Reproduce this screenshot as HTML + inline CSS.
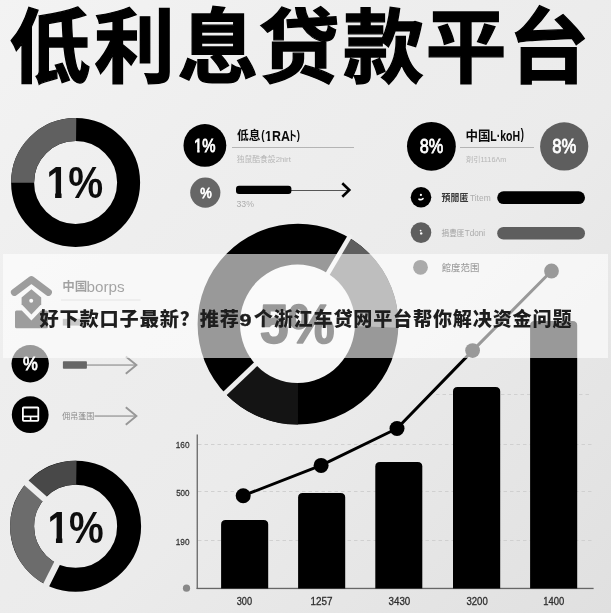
<!DOCTYPE html>
<html lang="zh-CN">
<head>
<meta charset="utf-8">
<title>低利息贷款平台</title>
<style>
  html,body{margin:0;padding:0;}
  body{width:611px;height:613px;overflow:hidden;background:#ebebeb;font-family:"Liberation Sans","Noto Sans CJK SC",sans-serif;}
  #stage{position:relative;width:611px;height:613px;overflow:hidden;background:linear-gradient(135deg,#f3f3f3 0%,#eeeeee 30%,#ebebeb 58%,#e0e0e0 100%);}
  svg{position:absolute;left:0;top:0;display:block;}
  .cjk{font-family:"Liberation Sans","Noto Sans CJK SC",sans-serif;}
  #band{position:absolute;left:3px;top:254px;width:605px;height:103.5px;background:rgba(255,255,255,0.6);}
</style>
</head>
<body>
<div id="stage">
<svg id="art" width="611" height="613" viewBox="0 0 611 613">
  <g id="title">
  <text class="cjk" x="9.6 94 177.4 258.5 343 425.5 508.2" y="76.4" font-size="81" font-weight="700" fill="#000" stroke="#000" stroke-width="1.3" stroke-linejoin="miter">低利息贷款平台</text>
  </g>
  <g id="donut1">
  <circle cx="75.6" cy="182.5" r="53" fill="none" stroke="#000" stroke-width="23"/>
  <path d="M22.60 182.69 A53 53 0 0 1 76.16 129.50" fill="none" stroke="#606060" stroke-width="23"/>
  <clipPath id="nf1" clipPathUnits="userSpaceOnUse"><rect x="-44.16" y="-88.32" width="264.96" height="82.62"/><rect x="9.71" y="-5.80" width="7.26" height="44.16"/><rect x="24.56" y="-5.80" width="220.80" height="44.16"/></clipPath><text transform="translate(46.47 198.26) scale(0.8888 1)" font-size="44.16" font-weight="700" fill="#0d0d0d" style="font-family:'Liberation Sans',sans-serif" clip-path="url(#nf1)">1%</text>
  </g>
  <g id="blockA">
  <circle cx="204.9" cy="145.4" r="21.4" fill="#000"/>
  <clipPath id="nf2" clipPathUnits="userSpaceOnUse"><rect x="-18.13" y="-36.26" width="108.77" height="33.90"/><rect x="3.96" y="-2.45" width="2.80" height="18.13"/><rect x="10.08" y="-2.45" width="90.64" height="18.13"/></clipPath><text transform="translate(193.98 151.82) scale(0.8228 1)" font-size="18.13" font-weight="400" fill="#fff" style="font-family:'Liberation Sans',sans-serif" stroke="#fff" stroke-width="0.9" clip-path="url(#nf2)">1%</text>
  <text transform="translate(237.08 139.92) scale(0.9403 1)" font-size="12.47" font-weight="700" fill="#0a0a0a" style="font-family:'Liberation Sans','Noto Sans CJK SC',sans-serif" >低息</text>
  <text transform="translate(261.36 138.76) scale(0.7343 1)" font-size="13.58" font-weight="700" fill="#0a0a0a" style="font-family:'Liberation Sans',sans-serif" >(</text>
  <clipPath id="nf3" clipPathUnits="userSpaceOnUse"><rect x="-14.34" y="-28.69" width="86.07" height="26.22"/><rect x="2.75" y="-2.56" width="3.17" height="14.34"/><rect x="7.98" y="-2.56" width="71.72" height="14.34"/></clipPath><text transform="translate(265.05 140.70) scale(0.8659 1)" font-size="14.34" font-weight="700" fill="#0a0a0a" style="font-family:'Liberation Sans',sans-serif" clip-path="url(#nf3)">1RA</text>
  <text transform="translate(288.11 140.49) scale(0.7008 1)" font-size="12.93" font-weight="700" fill="#0a0a0a" style="font-family:'Liberation Sans','Noto Sans CJK SC',sans-serif" >ト</text>
  <text transform="translate(296.67 138.76) scale(0.7109 1)" font-size="13.58" font-weight="700" fill="#0a0a0a" style="font-family:'Liberation Sans',sans-serif" >)</text>
  <rect x="232" y="147" width="122" height="1" fill="#b4b4b4"/>
  <text transform="translate(236.67 161.86) scale(1.0417 1)" font-size="7.50" font-weight="400" fill="#b6b6b6" style="font-family:'Liberation Sans','Noto Sans CJK SC',sans-serif" >独鼠酷食設2hirt</text>
  <circle cx="205.3" cy="192.6" r="15.1" fill="#666"/>
  <text transform="translate(200.14 197.92) scale(0.8459 1)" font-size="15.29" font-weight="400" fill="#fff" style="font-family:'Liberation Sans',sans-serif" stroke="#fff" stroke-width="0.8">%</text>
  <rect x="290" y="190" width="58" height="1" fill="#555"/>
  <rect x="236" y="185.7" width="55.4" height="8.4" rx="3" fill="#000"/>
  <path d="M342.3 183.2 L349.3 190 L342.3 196.8" fill="none" stroke="#000" stroke-width="2.6" stroke-linejoin="miter"/>
  <text transform="translate(236.50 206.95) scale(1.0415 1)" font-size="8.40" font-weight="400" fill="#adadad" style="font-family:'Liberation Sans',sans-serif" >33%</text>
  </g>
  <g id="blockB">
  <circle cx="431.4" cy="146.3" r="24.4" fill="#000"/>
  <text transform="translate(419.66 153.22) scale(0.8433 1)" font-size="19.31" font-weight="400" fill="#fff" style="font-family:'Liberation Sans',sans-serif" stroke="#fff" stroke-width="0.8">8%</text>
  <text transform="translate(465.39 139.67) scale(0.9560 1)" font-size="13.08" font-weight="700" fill="#0a0a0a" style="font-family:'Liberation Sans','Noto Sans CJK SC',sans-serif" >中国</text>
  <text transform="translate(490.27 140.64) scale(0.6783 1)" font-size="15.52" font-weight="700" fill="#0a0a0a" style="font-family:'Liberation Sans',sans-serif" >L·koH</text>
  <text transform="translate(520.68 138.88) scale(0.6864 1)" font-size="13.90" font-weight="700" fill="#0a0a0a" style="font-family:'Liberation Sans',sans-serif" >)</text>
  <rect x="460" y="147" width="74" height="1" fill="#b4b4b4"/>
  <text transform="translate(465.88 162.41) scale(0.9869 1)" font-size="7.35" font-weight="400" fill="#b6b6b6" style="font-family:'Liberation Sans','Noto Sans CJK SC',sans-serif" >剤引1116Λm</text>
  <circle cx="564.2" cy="146.4" r="24.1" fill="#5e5e5e"/>
  <text transform="translate(552.36 153.22) scale(0.8619 1)" font-size="19.31" font-weight="400" fill="#fff" style="font-family:'Liberation Sans',sans-serif" stroke="#fff" stroke-width="0.8">8%</text>
  <circle cx="421" cy="197.2" r="10.3" fill="#000"/>
  <circle cx="420.9" cy="194.9" r="1.1" fill="#fff"/>
  <path d="M419 199.2 Q421 200.4 423 198.6" fill="none" stroke="#fff" stroke-width="1.6" stroke-linecap="round"/>
  <text transform="translate(441.61 200.76) scale(0.9464 1)" font-size="9.44" font-weight="700" fill="#383838" style="font-family:'Liberation Sans','Noto Sans CJK SC',sans-serif" >預閒匿</text>
  <text transform="translate(469.91 201.27) scale(0.9198 1)" font-size="9.18" font-weight="400" fill="#adadad" style="font-family:'Liberation Sans',sans-serif" >Titem</text>
  <rect x="497.2" y="191.3" width="87.8" height="12.7" rx="6.35" fill="#000"/>
  <circle cx="421" cy="232.6" r="10.3" fill="#5e5e5e"/>
  <circle cx="420.6" cy="230.6" r="0.9" fill="#fff"/><circle cx="421.2" cy="233.4" r="1.2" fill="#fff"/>
  <text transform="translate(441.55 236.26) scale(0.8953 1)" font-size="8.48" font-weight="400" fill="#a2a2a2" style="font-family:'Liberation Sans','Noto Sans CJK SC',sans-serif" >捐豊匪</text>
  <text transform="translate(464.72 236.47) scale(0.8998 1)" font-size="9.01" font-weight="400" fill="#ababab" style="font-family:'Liberation Sans',sans-serif" >Tdoni</text>
  <rect x="497.2" y="227" width="87.8" height="12.5" rx="6.25" fill="#5e5e5e"/>
  <circle cx="420.5" cy="267.3" r="7.4" fill="#2b2b2b"/>
  <text transform="translate(441.71 271.37) scale(1.0109 1)" font-size="9.32" font-weight="500" fill="#050505" style="font-family:'Liberation Sans','Noto Sans CJK SC',sans-serif" >館度范围</text>
  </g>
  <g id="chart">
  <g stroke="#d0d0d0" stroke-width="1" stroke-dasharray="3.5 3">
  <line x1="436" y1="394.5" x2="592" y2="394.5"/>
  <line x1="198" y1="444.5" x2="592" y2="444.5"/>
  <line x1="198" y1="491.5" x2="592" y2="491.5"/>
  <line x1="198" y1="540.5" x2="592" y2="540.5"/>
  </g>
  <rect x="196.6" y="434.5" width="1.3" height="154.5" fill="#666"/>
  <rect x="196.6" y="587.8" width="397" height="1.3" fill="#666"/>
  <circle cx="186.5" cy="588.2" r="3.6" fill="#888"/>
  <path d="M221.1 588.6 V524.7 Q221.1 520.1 225.7 520.1 H263.59999999999997 Q268.2 520.1 268.2 524.7 V588.6 Z" fill="#000"/>
  <path d="M298.1 588.6 V497.6 Q298.1 493 302.70000000000005 493 H340.59999999999997 Q345.2 493 345.2 497.6 V588.6 Z" fill="#000"/>
  <path d="M375.3 588.6 V466.6 Q375.3 462 379.90000000000003 462 H417.7 Q422.3 462 422.3 466.6 V588.6 Z" fill="#000"/>
  <path d="M453 588.6 V391.5 Q453 386.9 457.6 386.9 H495.59999999999997 Q500.2 386.9 500.2 391.5 V588.6 Z" fill="#000"/>
  <path d="M530.1 588.6 V325.6 Q530.1 321 534.7 321 H572.6 Q577.2 321 577.2 325.6 V588.6 Z" fill="#000"/>
  <polyline points="243.2,495.7 321.1,465.4 397,428.5 472.6,350.6 551.5,271" fill="none" stroke="#000" stroke-width="3" stroke-linejoin="round"/>
  <circle cx="243.2" cy="495.7" r="7.5" fill="#000"/>
  <circle cx="321.1" cy="465.4" r="7.5" fill="#000"/>
  <circle cx="397" cy="428.5" r="7.5" fill="#000"/>
  <circle cx="472.6" cy="350.6" r="7.4" fill="#000"/>
  <circle cx="551.5" cy="271" r="7.4" fill="#000"/>
  <text transform="translate(175.78 447.60) scale(0.8509 1)" font-size="9.71" font-weight="400" fill="#333" style="font-family:'Liberation Sans',sans-serif" stroke="#333" stroke-width="0.25">160</text>
  <text transform="translate(176.13 495.91) scale(0.8291 1)" font-size="9.71" font-weight="400" fill="#333" style="font-family:'Liberation Sans',sans-serif" stroke="#333" stroke-width="0.25">500</text>
  <text transform="translate(175.78 544.60) scale(0.8509 1)" font-size="9.71" font-weight="400" fill="#333" style="font-family:'Liberation Sans',sans-serif" stroke="#333" stroke-width="0.25">190</text>
  <text transform="translate(236.75 605.24) scale(0.8738 1)" font-size="10.53" font-weight="400" fill="#2e2e2e" style="font-family:'Liberation Sans',sans-serif" stroke="#2e2e2e" stroke-width="0.3">300</text>
  <text transform="translate(310.58 605.24) scale(0.9417 1)" font-size="10.53" font-weight="400" fill="#2e2e2e" style="font-family:'Liberation Sans',sans-serif" stroke="#2e2e2e" stroke-width="0.3">1257</text>
  <text transform="translate(388.60 605.24) scale(0.9253 1)" font-size="10.53" font-weight="400" fill="#2e2e2e" style="font-family:'Liberation Sans',sans-serif" stroke="#2e2e2e" stroke-width="0.3">3430</text>
  <text transform="translate(466.43 605.24) scale(0.9095 1)" font-size="10.53" font-weight="400" fill="#2e2e2e" style="font-family:'Liberation Sans',sans-serif" stroke="#2e2e2e" stroke-width="0.3">3200</text>
  <text transform="translate(543.20 605.24) scale(0.8951 1)" font-size="10.53" font-weight="400" fill="#2e2e2e" style="font-family:'Liberation Sans',sans-serif" stroke="#2e2e2e" stroke-width="0.3">1400</text>
  </g>
  <g id="donut2">
  <circle cx="298" cy="324.2" r="100.4" fill="#f3f3f3"/>
  <circle cx="298" cy="324.2" r="77.7" fill="none" stroke="#000" stroke-width="45.4"/>
  <path d="M337.44 257.25 A77.7 77.7 0 0 1 375.65 326.91" fill="none" stroke="#5e5e5e" stroke-width="45.4"/>
  <path d="M298.00 401.90 A77.7 77.7 0 0 1 241.55 377.59" fill="none" stroke="#141414" stroke-width="45.4"/>
  <path d="M324.39 279.40 L350.78 234.59" fill="none" stroke="#f0f0f0" stroke-width="4.6"/>
  <path d="M260.22 359.93 L222.44 395.66" fill="none" stroke="#ededed" stroke-width="4.8"/>
  <ellipse cx="297.5" cy="323.8" rx="57.5" ry="59.3" fill="#f3f3f3"/>
  <text transform="translate(259.70 343.40) scale(0.9435 1)" font-size="54.95" font-weight="700" fill="#000" style="font-family:'Liberation Sans',sans-serif" stroke="#000" stroke-width="1.6" stroke-linejoin="round">5%</text>
  </g>
  <g id="leftlist">
  <g id="house">
  <path d="M14.4 292.4 L31.4 279.6 L48.4 292.4" fill="none" stroke="#0a0a0a" stroke-width="7" stroke-linecap="round" stroke-linejoin="round"/>
  <path d="M31.4 289.3 L41.2 297.6 V304.2 L31.4 314.4 L21.6 304.2 V297.6 Z" fill="#0a0a0a"/>
  <path d="M16.5 310.4 H21.8 L31.4 320.4 L41 310.4 H46.5 Q48 310.4 48 312 V326.8 Q48 328.3 46.5 328.3 H16.5 Q15 328.3 15 326.8 V312 Q15 310.4 16.5 310.4 Z" fill="#0a0a0a"/>
  <circle cx="31.2" cy="300.8" r="2" fill="#f4f4f4"/>
  </g>
  <text transform="translate(62.24 291.44) scale(1.0201 1)" font-size="12.32" font-weight="700" fill="#161616" style="font-family:'Liberation Sans','Noto Sans CJK SC',sans-serif" >中国</text>
  <text transform="translate(86.55 291.61) scale(1.1079 1)" font-size="13.80" font-weight="400" fill="#161616" style="font-family:'Liberation Sans',sans-serif" >borps</text>
  <rect x="61" y="299.5" width="79.5" height="1" fill="#bcbcbc"/>
  <rect x="62.8" y="318.8" width="24" height="6.8" fill="#777"/>
  <circle cx="30.2" cy="363.8" r="18.7" fill="#000"/>
  <text transform="translate(23.00 369.89) scale(0.8818 1)" font-size="18.89" font-weight="400" fill="#fff" style="font-family:'Liberation Sans',sans-serif" stroke="#fff" stroke-width="0.8">%</text>
  <rect x="86" y="364.4" width="49.5" height="1.3" fill="#979797"/>
  <rect x="62.9" y="361.2" width="24" height="7.6" rx="0.8" fill="#666"/>
  <path d="M125.8 356.4 L136.4 365 L125.8 373.8" fill="none" stroke="#979797" stroke-width="1.9"/>
  <circle cx="30.2" cy="414.7" r="18.4" fill="#000"/>
  <rect x="22.9" y="407.5" width="15.4" height="13.3" rx="0.8" fill="none" stroke="#fff" stroke-width="1.8"/>
  <rect x="22.9" y="415.6" width="15.4" height="1.7" fill="#fff"/>
  <rect x="29.8" y="416.4" width="1.6" height="4.4" fill="#fff"/>
  <text transform="translate(62.21 419.01) scale(0.9862 1)" font-size="8.11" font-weight="400" fill="#8c8c8c" style="font-family:'Liberation Sans','Noto Sans CJK SC',sans-serif" >佣帛蓬围</text>
  <rect x="94.5" y="415.4" width="41" height="1.3" fill="#979797"/>
  <path d="M125.8 407.2 L136.4 416 L125.8 424.8" fill="none" stroke="#979797" stroke-width="1.9"/>
  </g>
  <g id="donut3">
  <circle cx="75.6" cy="526.3" r="53.5" fill="none" stroke="#000" stroke-width="24"/>
  <path d="M51.64 574.14 A53.5 53.5 0 0 1 35.53 490.85" fill="none" stroke="#6c6c6c" stroke-width="24"/>
  <path d="M35.53 490.85 A53.5 53.5 0 0 1 76.35 472.81" fill="none" stroke="#484848" stroke-width="24"/>
  <path d="M58.59 560.28 L44.70 588.00" fill="none" stroke="#ebebeb" stroke-width="6.4"/>
  <path d="M47.14 501.12 L23.92 480.58" fill="none" stroke="#ededed" stroke-width="6.4"/>
  <clipPath id="nf4" clipPathUnits="userSpaceOnUse"><rect x="-44.49" y="-88.98" width="266.93" height="83.23"/><rect x="9.78" y="-5.84" width="7.30" height="44.49"/><rect x="24.74" y="-5.84" width="222.44" height="44.49"/></clipPath><text transform="translate(47.38 542.52) scale(0.8773 1)" font-size="44.49" font-weight="700" fill="#0d0d0d" style="font-family:'Liberation Sans',sans-serif" clip-path="url(#nf4)">1%</text>
  </g>
</svg>
<div id="band"></div>
<svg id="caption" width="611" height="613" viewBox="0 0 611 613">
  <text font-weight="900" fill="#1e1e1e" style="font-family:'Liberation Sans','Noto Sans CJK SC',sans-serif"><tspan x="39.55" y="326" font-size="19.2" letter-spacing="0.83">好下款口子最新？推荐</tspan><tspan x="239.4" y="325.6" font-size="17.3" font-weight="700" letter-spacing="0" textLength="11.9" lengthAdjust="spacingAndGlyphs" stroke="#1e1e1e" stroke-width="0.5">9</tspan><tspan x="253.75" y="326.1" font-size="19.1" letter-spacing="0.815">个浙江车贷网平台帮你解决资金问题</tspan></text>
</svg>
</div>
</body>
</html>
